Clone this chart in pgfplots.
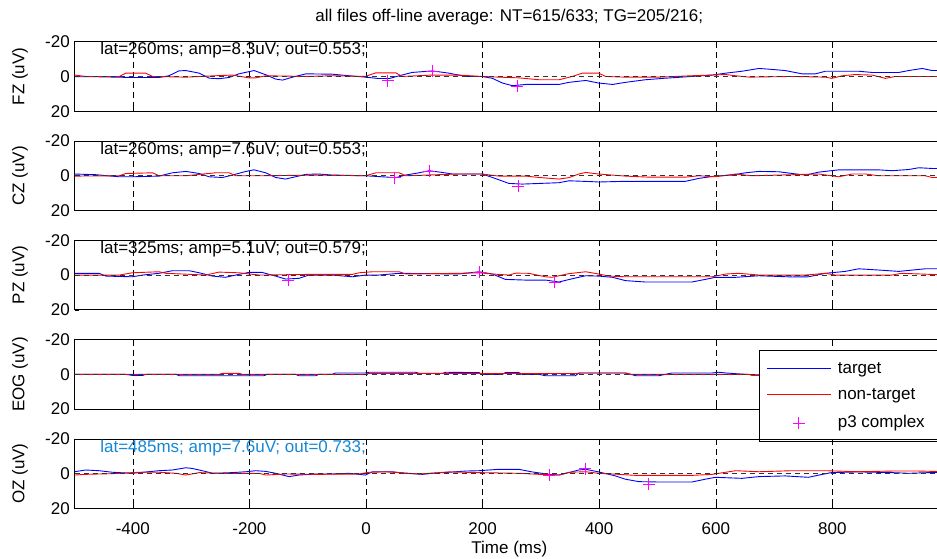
\documentclass[border=0pt]{standalone}
\usepackage{fontspec}
\setmainfont{Liberation Sans}
\usepackage{pgfplots}
\pgfplotsset{compat=1.18}
\definecolor{tgcol}{RGB}{0,0,255}
\definecolor{ntcol}{RGB}{255,0,0}
\definecolor{ptcol}{RGB}{255,0,255}
\definecolor{annb}{RGB}{20,135,215}
\newcommand{\fs}{\fontsize{17}{20}\selectfont}
\newcommand{\legrule}[1]{\textcolor{#1}{\rule[4.5pt]{64pt}{0.9pt}}}
\newcommand{\legplus}{\textcolor{ptcol}{\makebox[64pt]{\rule[4.1pt]{12pt}{0.8pt}\hspace{-6.4pt}\rule[-1.5pt]{0.8pt}{12pt}\hspace{5.6pt}}}}
\pgfplotsset{
  panel/.style={
    scale only axis, width=874.5pt, height=69.5pt,
    xmin=-500, xmax=1000, ymin=-20, ymax=20, y dir=reverse,
    xtick={-400,-200,0,200,400,600,800}, ytick={-20,0,20},
    yticklabels={-20,0,20}, xticklabels={},
    xmajorgrids, major grid style={black, line width=0.6pt, dash pattern=on 6pt off 4pt},
    tick align=inside, major tick length=4pt,
    tick style={black, line width=0.6pt},
    axis line style={line width=0.8pt},
    tick label style={font=\fs},
    yticklabel style={anchor=east, inner sep=0pt, xshift=-4.5pt},
    xticklabel style={anchor=base, inner sep=0pt, yshift=-25.7pt},
    label style={font=\fs},
    ylabel style={at={(axis description cs:-0.0623,0.5)}, anchor=center},
    clip mode=individual,
    anchor=north west,
  },
  nolegimg/.style={legend image code/.code={}},
}
\begin{document}
\begin{tikzpicture}
\path[use as bounding box] (0pt,0pt) rectangle (937pt,558pt);

% ---------------- FZ
\begin{axis}[panel, at={(74.5pt,516.3pt)}, ylabel={FZ (uV)},
  title={all files off-line average: NT=615/633; TG=205/216;},
  title style={font=\fs, at={(axis description cs:0.5,1)}, anchor=base, yshift=14.5pt, xshift=-2.5pt}]
\addplot[color=tgcol, line width=0.9pt] coordinates {(-500,0.2) (-458,0.2) (-401,0.6) (-355,0.6) (-338,-0.4) (-321,-3.2) (-309,-3.4) (-286,-1.9) (-269,1.0) (-252,1.3) (-235,0.6) (-218,-1.5) (-192,-3.4) (-172,-1.0) (-155,1.5) (-143,2.1) (-126,0.4) (-103,-1.5) (-58,-1.3) (-29,-0.4) (-1,0.4) (22,1.2) (40,1.2) (57,-0.4) (79,-2.3) (114,-3.2) (142,-1.9) (171,0) (199,0) (217,1.1) (234,3.8) (251,5.3) (274,4.6) (331,4.6) (348,3.4) (377,2.3) (399,3.8) (423,4.6) (445,3.4) (479,1.9) (514,1.0) (559,0) (594,-0.8) (617,-1.9) (645,-3.0) (674,-4.6) (691,-4.2) (719,-3.4) (748,-1.5) (771,-1.5) (788,-3.0) (845,-3.0) (868,-2.3) (914,-2.3) (931,-3.4) (954,-4.6) (971,-3.4) (1000,-3.4)};
\addplot[color=ntcol, line width=0.9pt] coordinates {(-500,-0.8) (-481,0) (-423,0) (-412,-1.9) (-378,-1.9) (-366,0) (-309,0.4) (-258,-0.4) (-229,-0.8) (-201,0.8) (-189,0.8) (-172,-0.4) (-103,0) (-58,-0.4) (-1,0) (17,-2.1) (51,-2.1) (62,0) (114,-0.8) (159,-0.8) (199,0) (228,0.4) (262,0.8) (297,1.9) (331,1.9) (354,0) (371,-1.9) (399,-1.9) (411,0) (445,0.4) (502,0.4) (559,-0.4) (617,-1.1) (634,-0.4) (657,0.4) (731,0) (788,0.4) (799,1.1) (817,-0.4) (839,-1.1) (868,-0.8) (891,1.1) (908,0) (1000,0)};
\addplot[black!80, line width=0.9pt, dash pattern=on 5pt off 4pt, forget plot] coordinates {(-500,0) (1000,0)};
\addplot[only marks, mark=+, mark size=6pt, color=ptcol, line width=0.8pt] coordinates {(37,2.5) (114,-2.9) (259,5.7)};
\node[anchor=north west, inner sep=0pt, font=\fs, yshift=-0.6pt] at (axis cs:-456,-20) {lat=260ms; amp=8.3uV; out=0.553;};
\end{axis}

% ---------------- CZ
\begin{axis}[panel, at={(74.5pt,417pt)}, ylabel={CZ (uV)}]
\addplot[color=tgcol, line width=0.9pt] coordinates {(-500,-1.0) (-463,-0.6) (-423,0.6) (-401,0.6) (-355,0.2) (-332,-1.7) (-309,-2.5) (-286,-1.3) (-269,0.6) (-246,1.0) (-229,-0.4) (-206,-2.5) (-192,-3.4) (-172,-1.7) (-155,1.0) (-138,1.9) (-121,0.6) (-103,-0.8) (-81,-1.0) (-58,-0.4) (-1,0) (28,0.6) (51,1.1) (68,-0.4) (91,-1.7) (108,-2.9) (131,-1.9) (148,-1.0) (199,-1.0) (217,1.0) (245,4.4) (268,4.8) (331,4.0) (348,2.9) (388,3.4) (399,3.6) (445,3.2) (548,3.2) (571,1.5) (599,0.2) (627,-0.4) (651,-1.7) (674,-2.5) (708,-2.3) (731,-1.3) (754,-0.4) (777,-2.1) (811,-3.4) (879,-3.4) (902,-2.9) (931,-3.6) (948,-4.6) (971,-4.2) (1000,-4.2)};
\addplot[color=ntcol, line width=0.9pt] coordinates {(-500,0.2) (-423,0) (-412,-1.3) (-366,-1.7) (-355,0) (-309,0) (-258,-1.7) (-235,-1.7) (-223,0) (-172,0) (-86,-0.4) (-1,0) (17,-1.7) (57,-1.7) (68,0) (159,-1.0) (199,-1.0) (228,0.2) (274,0.2) (297,1.0) (331,1.9) (348,1.1) (365,-1.0) (377,-1.9) (399,-1.0) (445,0.2) (485,0.8) (548,0.8) (571,0) (599,0.6) (634,-1.0) (662,0) (777,-1.0) (811,0.6) (834,-1.0) (857,-1.0) (879,0) (959,0) (971,1.0) (1000,1.0)};
\addplot[black!80, line width=0.9pt, dash pattern=on 5pt off 4pt, forget plot] coordinates {(-500,0) (1000,0)};
\addplot[only marks, mark=+, mark size=6pt, color=ptcol, line width=0.8pt] coordinates {(49,1.1) (108,-2.5) (261,5.9)};
\node[anchor=north west, inner sep=0pt, font=\fs, yshift=-0.6pt] at (axis cs:-456,-20) {lat=260ms; amp=7.6uV; out=0.553;};
\end{axis}

% ---------------- PZ
\begin{axis}[panel, at={(74.5pt,317.7pt)}, ylabel={PZ (uV)}]
\addplot[color=tgcol, line width=0.9pt] coordinates {(-500,-1.0) (-458,-1.0) (-446,0.6) (-401,1.0) (-383,0) (-355,-1.0) (-332,-2.5) (-303,-2.5) (-286,-1.3) (-263,0.6) (-241,1.3) (-218,-0.4) (-201,-1.5) (-178,-1.5) (-155,0.6) (-138,2.3) (-115,1.9) (-98,0) (-58,0) (-23,1.0) (-1,0) (22,0) (57,-1.0) (159,-0.6) (194,-1.9) (217,-0.6) (239,2.5) (274,2.9) (308,2.9) (331,4.0) (354,2.1) (377,0.4) (399,0.6) (423,1.3) (445,3.2) (479,4.0) (559,4.0) (582,2.5) (599,1.3) (634,1.3) (674,0.4) (731,1.1) (759,1.0) (788,-1.0) (822,-2.1) (845,-3.6) (879,-2.9) (914,-2.1) (959,-3.6) (1000,-3.6)};
\addplot[color=ntcol, line width=0.9pt] coordinates {(-500,0) (-423,0) (-401,-1.3) (-355,-1.9) (-343,-1.0) (-275,0) (-252,-1.7) (-218,-1.3) (-183,0) (-92,-0.4) (-23,-0.4) (-12,-1.3) (11,-1.9) (57,-1.9) (68,-0.6) (159,-1.0) (194,-1.3) (217,-0.6) (245,0) (257,-1.1) (279,-1.0) (308,1.0) (319,1.3) (331,0.4) (348,-0.8) (377,-1.9) (399,-0.6) (417,0.6) (445,1.0) (594,1.0) (617,-0.6) (639,-1.0) (674,0) (754,0) (788,-1.0) (805,0) (902,0) (919,-1.0) (1000,0)};
\addplot[black!80, line width=0.9pt, dash pattern=on 5pt off 4pt, forget plot] coordinates {(-500,0) (1000,0)};
\addplot[only marks, mark=+, mark size=6pt, color=ptcol, line width=0.8pt] coordinates {(-133,2.9) (194,-1.5) (324,4.0)};
\node[anchor=north west, inner sep=0pt, font=\fs, yshift=-0.6pt] at (axis cs:-456,-20) {lat=325ms; amp=5.1uV; out=0.579;};
\end{axis}

% ---------------- EOG
\begin{axis}[panel, at={(74.5pt,218.4pt)}, ylabel={EOG (uV)},
  legend cell align=left,
  legend style={at={(0.7823,0.850)}, anchor=north west, font=\fs,
    inner xsep=2pt, inner ysep=10pt, row sep=10pt,
    /tikz/every odd column/.append style={column sep=4pt}}]
\addplot[color=tgcol, line width=0.9pt, forget plot] coordinates {(-500,0) (-412,0) (-401,0.6) (-383,0.6) (-378,0) (-326,0) (-320,0.8) (-175,0.8) (-170,0) (-121,0) (-115,0.8) (-86,0.8) (-81,0) (-58,0) (-52,-0.8) (-1,-0.8) (5,-1.2) (85,-1.2) (91,-0.6) (131,-0.6) (137,-1.2) (194,-1.0) (199,0) (234,0) (239,-1.0) (262,-1.0) (268,0) (297,0) (308,0.8) (359,0.8) (365,-0.8) (445,-0.8) (463,0.8) (502,0.8) (525,-0.8) (594,-0.8) (605,-1.2) (617,-0.8) (651,0) (680,0.4) (720,0) (1000,0)};
\addplot[color=ntcol, line width=0.9pt, forget plot] coordinates {(-500,0) (-252,0) (-246,-0.6) (-218,-0.6) (-212,0) (-1,0) (5,-0.5) (359,-0.5) (371,-0.8) (445,-0.8) (455,0) (657,0) (662,0.6) (1000,0)};
\addplot[black!80, line width=0.9pt, dash pattern=on 5pt off 4pt, forget plot] coordinates {(-500,0) (1000,0)};
\addlegendimage{nolegimg}
\addlegendentry{\legrule{tgcol}\hspace{7pt}target}
\addlegendimage{nolegimg}
\addlegendentry{\legrule{ntcol}\hspace{7pt}non-target}
\addlegendimage{nolegimg}
\addlegendentry{\legplus\hspace{7pt}p3 complex\hspace*{14pt}}
\end{axis}

% ---------------- OZ
\begin{axis}[panel, at={(74.5pt,119.1pt)}, ylabel={OZ (uV)},
  xticklabels={-400,-200,0,200,400,600,800},
  xlabel={Time (ms)},
  xlabel style={at={(axis description cs:0.4973,0)}, anchor=base, yshift=-44.7pt}]
\addplot[color=tgcol, line width=0.9pt] coordinates {(-500,-1.1) (-481,-2.1) (-458,-1.7) (-435,-0.8) (-401,-0.2) (-389,-0.6) (-355,-1.7) (-332,-2.1) (-309,-3.4) (-298,-3.0) (-281,-1.7) (-263,-0.2) (-229,-0.6) (-206,-1.1) (-189,-1.7) (-172,-1.3) (-155,-0.2) (-132,1.7) (-115,0.8) (-86,0.2) (-58,0.2) (-29,-0.2) (-1,0.8) (11,-1.1) (45,-1.1) (68,-0.2) (97,0.4) (114,-0.2) (142,-0.8) (171,-1.5) (194,-1.7) (228,-2.5) (262,-2.5) (285,-1.0) (314,0.4) (331,0.8) (348,-0.6) (365,-2.1) (377,-2.5) (399,-1.0) (428,1.3) (445,3.2) (468,4.6) (502,4.8) (559,4.8) (582,3.2) (599,2.1) (645,2.7) (674,1.7) (719,1.3) (759,2.1) (777,0.8) (798,-0.6) (845,-1.0) (902,-0.6) (931,-0.2) (1000,-1.0)};
\addplot[color=ntcol, line width=0.9pt] coordinates {(-500,0.8) (-481,0.4) (-435,0) (-389,-0.8) (-355,-0.8) (-326,-0.2) (-309,0.8) (-286,-0.6) (-252,-0.2) (-183,-0.2) (-172,0.8) (-138,0.2) (-81,0.4) (-12,0.2) (5,-0.8) (34,-1.0) (57,-0.6) (91,0.2) (142,-1.0) (194,-0.6) (262,-0.2) (297,0.4) (331,0.8) (348,-0.8) (377,-1.1) (399,-0.2) (423,0.2) (463,1.0) (559,1.0) (594,0.4) (634,-1.7) (674,-1.1) (731,-1.7) (788,-1.7) (845,-1.1) (902,-1.5) (948,-1.5) (1000,-1.1)};
\addplot[black!80, line width=0.9pt, dash pattern=on 5pt off 4pt, forget plot] coordinates {(-500,0) (1000,0)};
\addplot[only marks, mark=+, mark size=6pt, color=ptcol, line width=0.8pt] coordinates {(314,0.8) (376,-2.9) (485,5.9)};
\node[anchor=north west, inner sep=0pt, font=\fs, text=annb, yshift=-0.6pt] at (axis cs:-456,-20) {lat=485ms; amp=7.6uV; out=0.733;};
\end{axis}
\end{tikzpicture}
\end{document}
